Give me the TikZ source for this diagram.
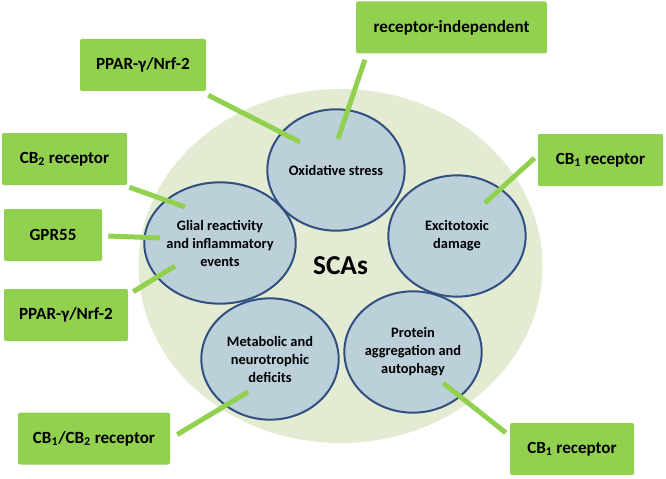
\documentclass[tikz,border=0pt]{standalone}
\usepackage{fontspec}
\setmainfont{Carlito}
\usepackage{tikz}
\usetikzlibrary{shapes.geometric,calc}
\definecolor{boxgreen}{RGB}{146,208,80}
\definecolor{palegreen}{RGB}{228,235,211}
\definecolor{cellblue}{RGB}{188,208,218}
\definecolor{ringblue}{RGB}{47,80,128}

\begin{document}
\begin{tikzpicture}[x=0.75pt,y=-0.75pt]
	\tikzset{cause/.style={ellipse,draw=ringblue,line width=1.5pt,fill=cellblue,minimum width=103pt,minimum height=91pt,inner sep=0pt,align=center,font=\fontsize{10.8}{13.5}\selectfont\bfseries}}
	\tikzset{target/.style={rectangle,rounded corners=1.5pt,fill=boxgreen,minimum height=39pt,inner sep=0pt,font=\fontsize{12.8}{14}\selectfont\bfseries}}
	\tikzset{link/.style={boxgreen,line width=3.75pt}}
	\useasboundingbox (0,0) rectangle (666,478);
	% disease core
	\node[ellipse,fill=palegreen,minimum width=303pt,minimum height=265.5pt,font=\fontsize{20.5}{22}\selectfont\bfseries] (scas) at (340.5,266) {SCAs};
	\node[cause] (oxid) at (336,170) {Oxidative stress};
	\node[cause] (excit) at (457,236) {Excitotoxic\\damage};
	\node[cause] (glial) at (220,243) {Glial reactivity\\and inflammatory\\events};
	\node[cause] (metab) at (270,359) {Metabolic and\\neurotrophic\\deficits};
	\node[cause] (prot) at (413,352) {Protein\\aggregation and\\autophagy};
	% targets
	\node[target,minimum width=94.5pt] (ppartop) at (143,65) {PPAR-γ/Nrf-2};
	\node[target,minimum width=143pt] (recind) at (451.5,27.5) {receptor-independent};
	\node[target,minimum width=94pt] (cbtwo) at (64.5,159) {CB\textsubscript{2} receptor};
	\node[target,minimum width=73.5pt] (gpr) at (53,235) {GPR55};
	\node[target,minimum width=93pt] (pparlow) at (66,315) {PPAR-γ/Nrf-2};
	\node[target,minimum width=94pt] (cbonea) at (600.5,160) {CB\textsubscript{1} receptor};
	\node[target,minimum width=114pt] (cbboth) at (94,438.5) {CB\textsubscript{1}/CB\textsubscript{2} receptor};
	\node[target,minimum width=93pt] (cboneb) at (572,449) {CB\textsubscript{1} receptor};
	% connectors
	\coordinate (oxa) at (300,142);
	\coordinate (oxb) at (338,139);
	\coordinate (gla) at (185,207);
	\coordinate (glb) at (160,238);
	\coordinate (glc) at (175,266);
	\coordinate (exa) at (485,203);
	\coordinate (mea) at (248,392);
	\coordinate (pra) at (443,383);
	\draw[link] ($(ppartop.south east)+(2,4)$) -- (oxa);
	\draw[link] ($(recind.south west)+(9,6)$) -- (oxb);
	\draw[link] ($(cbtwo.south east)+(2,2)$) -- (gla);
	\draw[link] ($(gpr.east)+(6,1)$) -- (glb);
	\draw[link] ($(pparlow.north east)+(5,3)$) -- (glc);
	\draw[link] ($(cbonea.west)+(-3,-2)$) -- (exa);
	\draw[link] ($(cbboth.east)+(7,-4)$) -- (mea);
	\draw[link] ($(cboneb.north west)+(-4,10)$) -- (pra);
\end{tikzpicture}
\end{document}
